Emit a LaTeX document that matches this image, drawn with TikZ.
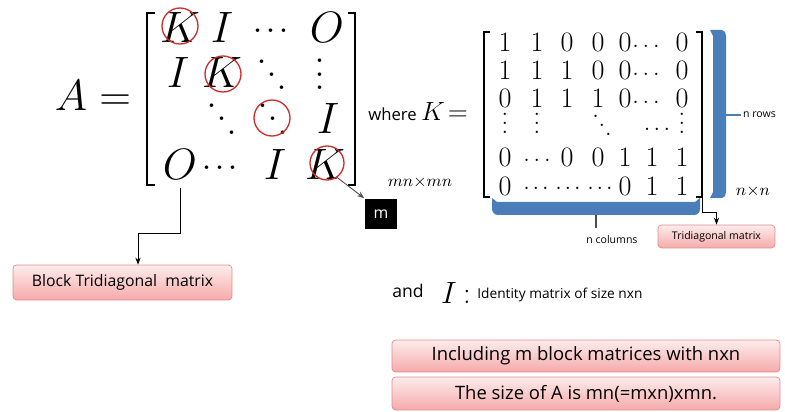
\RequirePackage{fix-cm}
\documentclass[tikz,border=0pt]{standalone}
\usepackage{amsmath,amssymb}
\usepackage{fontspec}
\newfontfamily\uifont{Open Sans}
\usetikzlibrary{arrows.meta}

\definecolor{ringred}{RGB}{205,45,45}
\definecolor{barblue}{RGB}{74,126,187}
\definecolor{pinktop}{RGB}{253,236,236}
\definecolor{pinkbot}{RGB}{246,170,170}
\definecolor{pinkline}{RGB}{226,140,140}

% dots that grow with the font size
\newcommand{\hdotsx}[2]{\mbox{\raisebox{#2}{.\kern#1.\kern#1.}}}
\newcommand{\vdotsx}[1]{\vbox{\baselineskip=#1\lineskiplimit=-100pt\hbox{.}\hbox{.}\hbox{.}}}
\newcommand{\ddotsx}[1]{\mbox{\raisebox{#1}{\raisebox{#1}{.}}\kern-0.02em\raisebox{#1}{.}\kern-0.02em.}}

\tikzset{
  bigent/.style={anchor=base, inner sep=0pt, font=\fontsize{25}{25}\selectfont},
  kent/.style={anchor=base, inner sep=0pt, font=\fontsize{16}{16}\selectfont},
  redring/.style={draw=ringred, circle, line width=0.75pt, minimum size=0.72cm, inner sep=0pt},
  pinkbox/.style={draw=pinkline, rounded corners=2pt, top color=pinktop, bottom color=pinkbot, inner sep=0pt},
  tinytxt/.style={font=\uifont\fontsize{6}{6}\selectfont, inner sep=1pt},
  elbow/.style={-{Stealth[length=4pt,width=3pt]}, line width=0.5pt}
}

\begin{document}
\begin{tikzpicture}[x=0.02cm,y=-0.02cm]
  \useasboundingbox (0,0) rectangle (785,412);

  % left hand side
  \node[bigent] (lhs) at (93,111) {$A=$};

  % block matrix A
  \node[bigent] (a11) at (180,43) {$K$};
  \node[bigent] (a12) at (222,43) {$I$};
  \node[bigent] (a13) at (271,43) {\hdotsx{0.04em}{0.23em}};
  \node[bigent] (a14) at (327,43) {$O$};
  \node[bigent] (a21) at (178,88) {$I$};
  \node[bigent] (a22) at (222,88) {$K$};
  \node[bigent] (a23) at (272,90) {\ddotsx{0.3em}};
  \node[bigent] (a24) at (320,90) {\vdotsx{0.31em}};
  \node[bigent] (a32) at (222,134) {\ddotsx{0.3em}};
  \node[bigent] (a33) at (273,134) {\ddotsx{0.3em}};
  \node[bigent] (a34) at (328,133) {$I$};
  \node[bigent] (a41) at (180,180) {$O$};
  \node[bigent] (a42) at (220,180) {\hdotsx{0.04em}{0.23em}};
  \node[bigent] (a43) at (275,180) {$I$};
  \node[bigent] (a44) at (325,180) {$K$};

  \draw[line width=1pt] (155,13) -- (147,13) -- (147,185) -- (155,185);
  \draw[line width=1pt] (348,13) -- (355,13) -- (355,185) -- (348,185);

  \node[redring] (r11) at (180,26) {};
  \node[redring] (r22) at (223,74) {};
  \node[redring] (r33) at (272,118) {};
  \node[redring, minimum size=0.68cm] (r44) at (327,163) {};

  % m box
  \node[fill=black, text=white, minimum width=0.66cm, minimum height=0.62cm, inner sep=0pt,
        font=\uifont\fontsize{9}{9}\selectfont] (mbox) at (381,214) {m};
  \draw[elbow, black!70] (r44.-55) -- (mbox.north west);
  \node[font=\fontsize{9.5}{9.5}\selectfont] (mnsize) at (420,182) {$mn{\times}mn$};

  % where K =
  \node[anchor=base west, inner sep=0pt, font=\fontsize{15}{15}\selectfont] (wherek) at (368,121)
    {{\uifont\fontsize{9.5}{9.5}\selectfont where\ }$K\!=$};

  % matrix K
  \node[kent] (k11) at (505,52) {1};
  \node[kent] (k12) at (537,52) {1};
  \node[kent] (k13) at (567,52) {0};
  \node[kent] (k14) at (598,52) {0};
  \node[kent] (k15) at (625,52) {0};
  \node[kent] (k16) at (646,52) {\hdotsx{0.12em}{0.15em}};
  \node[kent] (k17) at (682,52) {0};

  \node[kent] (k21) at (505,80) {1};
  \node[kent] (k22) at (537,80) {1};
  \node[kent] (k23) at (567,80) {1};
  \node[kent] (k24) at (598,80) {0};
  \node[kent] (k25) at (625,80) {0};
  \node[kent] (k26) at (646,80) {\hdotsx{0.12em}{0.15em}};
  \node[kent] (k27) at (682,80) {0};

  \node[kent] (k31) at (505,108) {0};
  \node[kent] (k32) at (537,108) {1};
  \node[kent] (k33) at (567,108) {1};
  \node[kent] (k34) at (598,108) {1};
  \node[kent] (k35) at (625,108) {0};
  \node[kent] (k36) at (646,108) {\hdotsx{0.12em}{0.15em}};
  \node[kent] (k37) at (682,108) {0};

  \node[kent] (k41) at (505,133) {\vdotsx{0.32em}};
  \node[kent] (k42) at (537,133) {\vdotsx{0.32em}};
  \node[kent] (k44) at (602,136) {\ddotsx{0.33em}};
  \node[kent] (k46) at (657,136) {\hdotsx{0.1em}{0.2em}};
  \node[kent] (k47) at (682,133) {\vdotsx{0.32em}};

  \node[kent] (k51) at (505,167) {0};
  \node[kent] (k52) at (537,167) {\hdotsx{0.12em}{0.2em}};
  \node[kent] (k53) at (567,167) {0};
  \node[kent] (k54) at (598,167) {0};
  \node[kent] (k55) at (625,167) {1};
  \node[kent] (k56) at (652,167) {1};
  \node[kent] (k57) at (682,167) {1};

  \node[kent] (k61) at (505,195) {0};
  \node[kent] (k62) at (536,195) {\hdotsx{0.08em}{0.2em}};
  \node[kent] (k63) at (568,195) {\hdotsx{0.08em}{0.2em}};
  \node[kent] (k64) at (600,195) {\hdotsx{0.08em}{0.2em}};
  \node[kent] (k65) at (625,195) {0};
  \node[kent] (k66) at (652,195) {1};
  \node[kent] (k67) at (682,195) {1};

  \draw[line width=0.6pt] (490,32) -- (484,32) -- (484,197) -- (490,197);
  \draw[line width=0.6pt] (696,32) -- (702,32) -- (702,197) -- (696,197);
  \coordinate (kbr) at (702,197);

  % blue braces
  \fill[barblue] (710,30) -- (722,30) to[out=0,in=90] (726,36) -- (726,192)
    to[out=-90,in=0] (722,198) -- (710,198) -- (713,192) -- (713,36) -- cycle;
  \node[tinytxt, anchor=west] (nrows) at (741,115) {n rows};
  \draw[barblue, line width=1pt] (726,115) -- (nrows.west);
  \node[font=\fontsize{9.5}{9.5}\selectfont] (nsize) at (753,191) {$n{\times}n$};

  \fill[barblue] (492,198) -- (497,202) -- (695,202) -- (700,198) -- (700,209)
    to[out=-90,in=0] (694,215) -- (498,215) to[out=180,in=-90] (492,209) -- cycle;
  \node[tinytxt] (ncols) at (612,240) {n columns};
  \draw[black!70, line width=0.6pt] (596,215) -- (596,228);

  % boxes
  \node[pinkbox, minimum width=2.34cm, minimum height=0.46cm,
        font=\uifont\fontsize{6}{6}\selectfont] (tribox) at (716.5,236.5) {Tridiagonal matrix};
  \draw[elbow] (kbr) -- ++(0,15) -| (tribox.north);

  \node[pinkbox, minimum width=4.38cm, minimum height=0.7cm,
        font=\uifont\fontsize{9}{9}\selectfont] (blockbox) at (122.5,282.5) {Block Tridiagonal\ \ matrix};
  \draw[elbow] ([yshift=-0.16cm]a41.south) -- ++(0,45) -| ([xshift=0.31cm]blockbox.north);

  % and I :
  \node[anchor=base west, inner sep=0pt, font=\uifont\fontsize{10}{10}\selectfont] (andtxt) at (392,297) {and};
  \node[anchor=base, inner sep=0pt, font=\fontsize{17.5}{17.5}\selectfont] (isym) at (449,303) {$I$};
  \node[anchor=base, inner sep=0pt, font=\fontsize{17.5}{17.5}\selectfont] (colon) at (467,303) {:};
  \node[anchor=base west, inner sep=0pt, font=\uifont\fontsize{7.8}{7.8}\selectfont] (idtxt) at (477,298)
    {Identity matrix of size nxn};

  \node[pinkbox, minimum width=7.76cm, minimum height=0.64cm,
        font=\uifont\fontsize{10.5}{10.5}\selectfont] (inclbox) at (586,356) {Including m block matrices with nxn};
  \node[pinkbox, minimum width=7.76cm, minimum height=0.66cm,
        font=\uifont\fontsize{10.5}{10.5}\selectfont] (sizebox) at (586,393.5) {The size of A is mn(=mxn)xmn.};
\end{tikzpicture}
\end{document}
